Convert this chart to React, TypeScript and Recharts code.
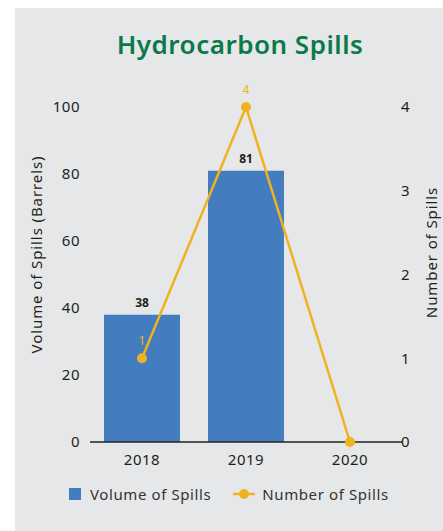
import {
  ComposedChart,
  Bar,
  Line,
  XAxis,
  YAxis,
  LabelList,
} from "recharts";

const years = ["2018", "2019", "2020"];
const volumeOfSpills = [38, 81, 0];
const numberOfSpills = [1, 4, 0];
const volumeTicks = [0, 20, 40, 60, 80, 100];
const countTicks = [0, 1, 2, 3, 4];

const BLUE = "#437cbf";
const GOLD = "#efb321";
const TEXT = "#231f20";
const FONT = "'Noto Sans', sans-serif";

const data = years.map((year, i) => ({
  year,
  volume: volumeOfSpills[i],
  count: numberOfSpills[i],
}));

const VolumeLabel = (props: any) => {
  const { x, y, width, value } = props;
  if (!value) return null;
  return (
    <text
      x={x + width / 2}
      y={y - 8}
      textAnchor="middle"
      fontSize={12}
      fontWeight={700}
      fill={TEXT}
      fontFamily={FONT}
    >
      {value}
    </text>
  );
};

const CountLabel = (props: any) => {
  const { x, y, value } = props;
  if (!value) return null;
  return (
    <text
      x={x}
      y={y - 13}
      textAnchor="middle"
      fontSize={12}
      fill={GOLD}
      fontFamily={FONT}
    >
      {value}
    </text>
  );
};

const axisTitleStyle = {
  textAnchor: "middle",
  fill: TEXT,
  fontSize: 15,
  fontFamily: FONT,
  letterSpacing: 0.9,
};

// legend sits below the x axis, outside the plot area
const ChartLegend = () => (
  <div
    style={{
      position: "absolute",
      left: 69,
      top: 484,
      display: "flex",
      alignItems: "center",
      fontFamily: FONT,
      fontSize: 15,
      letterSpacing: 0.6,
      color: "#333",
    }}
  >
    <span
      style={{ width: 12, height: 12, background: BLUE, display: "inline-block", marginRight: 9 }}
    />
    <span style={{ marginRight: 22 }}>Volume of Spills</span>
    <svg width={22} height={12} style={{ marginRight: 7 }}>
      <line x1={0} y1={6} x2={22} y2={6} stroke={GOLD} strokeWidth={2.5} />
      <circle cx={11} cy={6} r={5} fill={GOLD} />
    </svg>
    <span>Number of Spills</span>
  </div>
);

export default function App() {
  return (
    <div
      style={{
        position: "absolute",
        left: 0,
        top: 0,
        width: 443,
        height: 531,
        background: "#ffffff",
      }}
    >
      <div
        style={{
          position: "absolute",
          left: 15,
          top: 8,
          width: 428,
          height: 523,
          background: "#e6e7e9",
        }}
      />
      <div
        style={{
          position: "absolute",
          left: 113,
          top: 26,
          width: 254,
          textAlign: "center",
          fontFamily: FONT,
          fontSize: 26,
          fontWeight: 600,
          letterSpacing: 0.5,
          color: "#0b7a4b",
          whiteSpace: "nowrap",
        }}
      >
        Hydrocarbon Spills
      </div>
      <div style={{ position: "absolute", left: 0, top: 0 }}>
        <ComposedChart
          width={443}
          height={531}
          data={data}
          margin={{ top: 107, right: 0, bottom: 0, left: 0 }}
          barCategoryGap={14}
        >
          <XAxis
            dataKey="year"
            tickLine={false}
            axisLine={{ stroke: "#222", strokeWidth: 1.5 }}
            tick={{ fill: TEXT, fontSize: 15, fontFamily: FONT, letterSpacing: 0.5 }}
            tickMargin={6}
            height={89}
          />
          <YAxis
            yAxisId="left"
            domain={[0, 100]}
            ticks={volumeTicks}
            width={90}
            axisLine={false}
            tickLine={false}
            tickSize={0}
            tickMargin={10}
            tick={{ fill: TEXT, fontSize: 15, fontFamily: FONT, letterSpacing: 0.5 }}
            label={{
              value: "Volume of Spills (Barrels)",
              angle: -90,
              position: "insideLeft",
              dx: 32,
              dy: -20,
              style: axisTitleStyle,
            }}
          />
          <YAxis
            yAxisId="right"
            orientation="right"
            domain={[0, 4]}
            ticks={countTicks}
            width={41}
            axisLine={false}
            tickLine={false}
            tickSize={0}
            tickMargin={-1}
            tick={{ fill: TEXT, fontSize: 15, fontFamily: FONT }}
            label={{
              value: "Number of Spills",
              angle: -90,
              position: "insideRight",
              dx: -6,
              dy: -22,
              style: axisTitleStyle,
            }}
          />
          <Bar yAxisId="left" dataKey="volume" name="Volume of Spills" fill={BLUE} isAnimationActive={false}>
            <LabelList dataKey="volume" content={VolumeLabel} />
          </Bar>
          <Line
            yAxisId="right"
            dataKey="count"
            name="Number of Spills"
            stroke={GOLD}
            strokeWidth={2.5}
            dot={{ r: 5, fill: GOLD, stroke: GOLD, strokeWidth: 0 }}
            isAnimationActive={false}
          >
            <LabelList dataKey="count" content={CountLabel} />
          </Line>
        </ComposedChart>
      </div>
      <ChartLegend />
    </div>
  );
}
